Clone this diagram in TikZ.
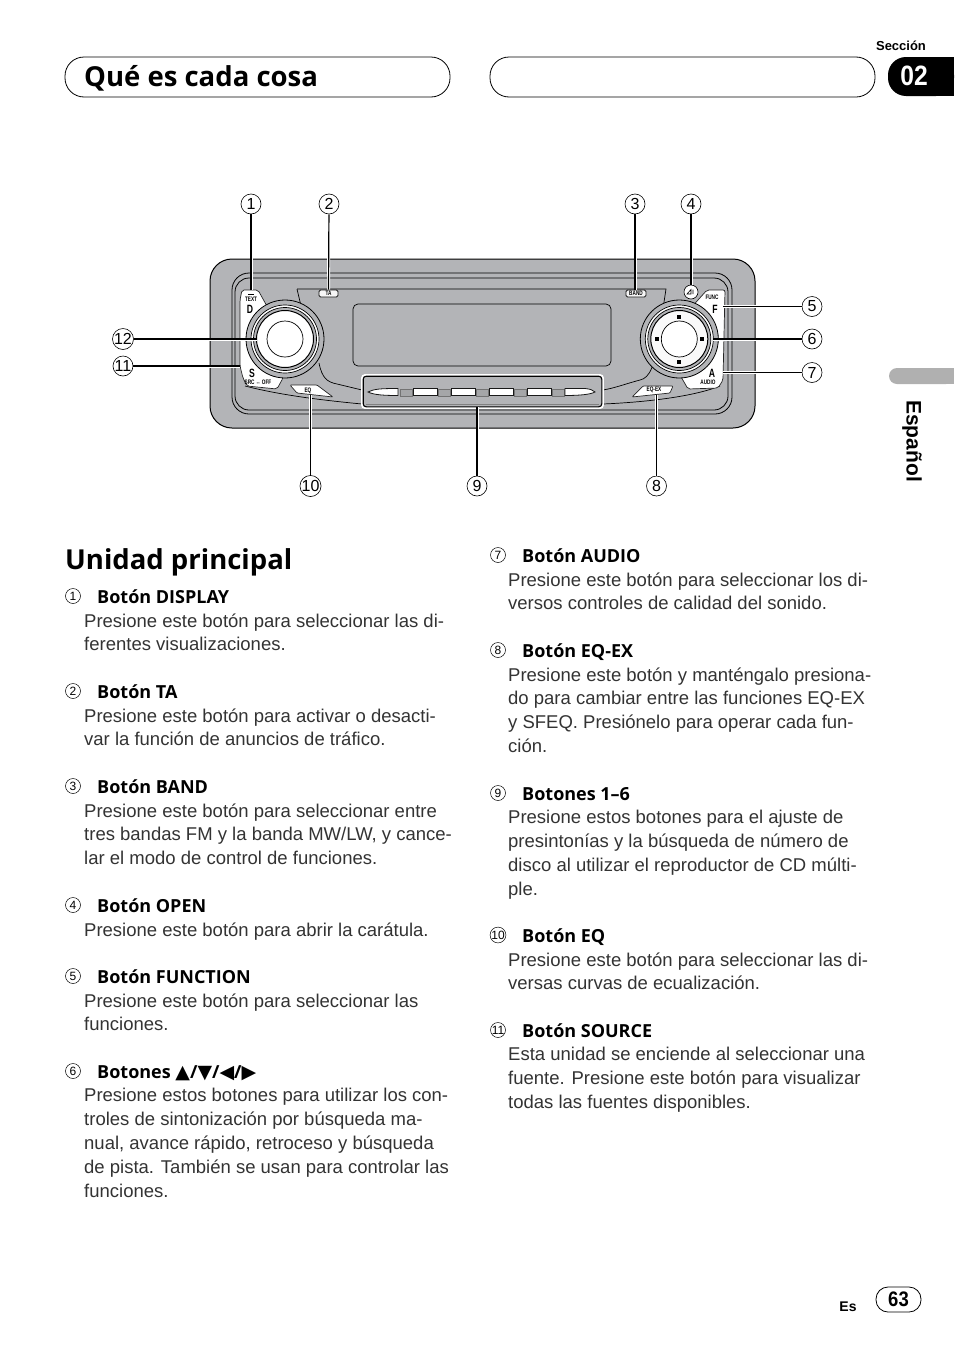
\documentclass[tikz,border=0pt]{standalone}
\usepackage{fontspec}
\setmainfont{Liberation Sans}
\newfontfamily\headfont{Open Sans}
\newfontfamily\symfont{DejaVu Sans}
\newfontfamily\keyfont[FakeStretch=.72]{Liberation Sans}
\newfontfamily\narrowfont[FakeStretch=.88]{Liberation Sans}
\definecolor{panelgray}{HTML}{B3B4B7}
\definecolor{tabgray}{HTML}{B0B0B0}
\definecolor{bodyink}{HTML}{333333}
\tikzset{
	callout/.style={line width=1.2pt, preaction={draw, white, line width=3pt}},
	bigmark/.style={circle, draw, line width=.6pt, fill=white, inner sep=0pt, minimum size=20pt, font=\fontsize{16}{16}\selectfont},
	smallmark/.style={circle, draw, line width=.5pt, inner sep=0pt, minimum size=15pt, font=\fontsize{12}{12}\selectfont},
	itemhead/.style={anchor=base west, inner sep=0pt, font=\headfont\bfseries\fontsize{18}{24}\selectfont},
	itembody/.style={anchor=north west, inner sep=0pt, align=left, text=bodyink, font=\fontsize{18.5}{23.8}\selectfont},
	bighead/.style={anchor=base west, inner sep=0pt, font=\headfont\bfseries\fontsize{27.5}{32}\selectfont},
	keyface/.style={draw=black!85, line width=.7pt, fill=white},
	keylabel/.style={inner sep=0pt, font=\keyfont\bfseries\fontsize{6.5}{6.5}\selectfont},
	keyletter/.style={inner sep=0pt, font=\keyfont\bfseries\fontsize{12}{12}\selectfont},
	tabkey/.style={draw=black!90, line width=.8pt, fill=white!88!panelgray, rounded corners=1.5pt, inner sep=0pt, minimum height=7pt, font=\keyfont\bfseries\fontsize{6.5}{6.5}\selectfont},
	gapkey/.style={draw=black!55, line width=.5pt, fill=panelgray!92!black},
	presetkey/.style={draw=black!90, line width=.8pt, fill=white},
}
\begin{document}
\begin{tikzpicture}[x=1pt, y=-1pt]
	\useasboundingbox (0, 0) rectangle (954, 1352);
	\fill[white] (0, 0) rectangle (954, 1352);

	\draw[line width=.8pt, rounded corners=19pt] (65, 57) rectangle (450, 97);
	\draw[line width=.8pt, rounded corners=19pt] (490, 57) rectangle (875, 97);
	\node[bighead] (title) at (84, 86) {Qué es cada cosa};

	\fill[black, rounded corners=18pt] (954, 57) -- (888, 57) -- (888, 96) -- (954, 96) -- cycle;
	\fill[black] (925, 57) rectangle (954, 96);
	\node[inner sep=0pt, font=\bfseries\fontsize{13}{13}\selectfont] (sectionword) at (901, 46) {Sección};
	\node[inner sep=0pt, text=white, font=\narrowfont\bfseries\fontsize{28}{28}\selectfont] (sectionno) at (914, 76) {02};

	\fill[tabgray, rounded corners=8pt] (954, 368) -- (889, 368) -- (889, 384) -- (954, 384) -- cycle;
	\fill[tabgray] (920, 368) rectangle (954, 384);
	\node[inner sep=0pt, rotate=-90, font=\bfseries\fontsize{21}{21}\selectfont] (language) at (912, 441) {Español};

	\draw[line width=1pt, fill=panelgray, rounded corners=22pt] (210, 259) rectangle (755, 428);
	\draw[line width=.8pt, rounded corners=17pt] (232, 273) rectangle (732, 414);
	\draw[line width=.8pt, rounded corners=14pt] (235, 278) rectangle (728, 410);

	\draw[line width=.7pt] (297, 289) -- (666, 289) -- (659, 335) .. controls (655, 365) and (650, 378) .. (640, 380) .. controls (625, 384) and (615, 388) .. (603, 390);
	\draw[line width=.7pt] (297, 289) -- (302, 310);
	\draw[line width=.7pt] (319, 363) .. controls (322, 378) and (327, 382) .. (337, 384) -- (362, 390);
	\draw[line width=.7pt] (245, 386) .. controls (280, 395) and (320, 400) .. (362, 404);
	\draw[line width=.7pt] (603, 404) .. controls (650, 402) and (695, 396) .. (720, 386);

	\draw[keyface, rounded corners=2pt] (242, 290) -- (258, 290) -- (268, 308) -- (285, 345) -- (283, 378) -- (277, 389) -- (247, 386) -- (243, 378) -- (240, 366) -- (240, 300) -- cycle;
	\draw[keyface, rounded corners=2pt] (707, 290) -- (725, 290) -- (723, 380) -- (718, 388) -- (688, 389) -- (680, 375) -- (680, 320) -- cycle;
	\draw[keyface, rounded corners=1pt] (290, 385) -- (317, 385) -- (333, 397) -- (297, 393) -- cycle;
	\draw[keyface, rounded corners=1pt] (643, 386) -- (673, 386) -- (670, 393) -- (632, 397) -- cycle;

	\draw[line width=.7pt, fill=panelgray, rounded corners=5pt] (353, 304) rectangle (611, 366);

	\draw[white, line width=1.8pt, fill=panelgray, rounded corners=3pt] (362, 375) rectangle (603, 408);
	\draw[line width=1.1pt, rounded corners=3pt] (363.2, 376.2) rectangle (601.8, 406.8);
	\draw[black!50, line width=.4pt] (366, 404) -- (599, 404);
	\draw[presetkey] (368, 392) .. controls (374, 389) and (380, 388.5) .. (398, 388.5) -- (398, 395.5) .. controls (385, 395.5) and (374, 395) .. (368, 392) -- cycle;
	\draw[gapkey] (400, 389) rectangle (412, 396);
	\draw[presetkey] (413, 388.5) rectangle (437, 395.5);
	\draw[gapkey] (438, 389) rectangle (450, 396);
	\draw[presetkey] (451, 388.5) rectangle (475, 395.5);
	\draw[gapkey] (476, 389) rectangle (488, 396);
	\draw[presetkey] (489, 388.5) rectangle (513, 395.5);
	\draw[gapkey] (514, 389) rectangle (526, 396);
	\draw[presetkey] (527, 388.5) rectangle (551, 395.5);
	\draw[gapkey] (552, 389) rectangle (564, 396);
	\draw[presetkey] (565, 388.5) -- (585, 388.5) .. controls (590, 389) and (593, 390) .. (595, 392) .. controls (590, 394.5) and (580, 395.5) .. (565, 395.5) -- cycle;

	\draw[line width=.8pt, fill=panelgray] (285, 339) circle (39);
	\draw[line width=.7pt, fill=white] (285, 339) circle (34);
	\draw[line width=.7pt, fill=panelgray] (285, 339) circle (31.5);
	\draw[line width=1pt, fill=white] (285, 339) circle (28.5);
	\draw[line width=.7pt] (285, 339) circle (18);

	\draw[line width=.8pt, fill=panelgray] (679.3, 339) circle (39);
	\draw[line width=.7pt, fill=white] (679.3, 339) circle (34);
	\draw[line width=.7pt, fill=panelgray] (679.3, 339) circle (31.5);
	\draw[line width=1pt, fill=white!92!panelgray] (679.3, 339) circle (28.5);
	\draw[line width=.7pt, fill=white] (679.3, 339) circle (18);
	\fill (677.3, 314.5) rectangle (681.3, 318.5);
	\fill (677.3, 359.5) rectangle (681.3, 363.5);
	\fill (654.8, 337) rectangle (658.8, 341);
	\fill (699.8, 337) rectangle (703.8, 341);

	\node[tabkey, minimum width=19pt] (keyta) at (328.5, 293.5) {TA};
	\node[tabkey, minimum width=20pt] (keyband) at (636, 293.5) {BAND};
	\node[circle, draw, line width=.6pt, fill=white, inner sep=0pt, minimum size=14pt] (keyopen) at (691, 292) {};
	\draw[line width=.6pt] (687, 294) -- (691, 289.5) -- (691, 294) -- cycle (693, 289.5) -- (693, 294);

	\draw[line width=.7pt] (248, 294) -- (254, 294);
	\node[keylabel] (labeltext) at (251, 299) {TEXT};
	\node[keyletter] (letterd) at (250, 309) {D};
	\node[keyletter] (letters) at (252, 373) {S};
	\node[keylabel] (labelsrc) at (258, 382) {SRC ↔ OFF};
	\node[keylabel] (labeleq) at (308, 391) {EQ};
	\node[keylabel] (labelfunc) at (712, 297) {FUNC};
	\node[keyletter] (letterf) at (715, 309) {F};
	\node[keyletter] (lettera) at (712, 373) {A};
	\node[keylabel] (labelaudio) at (708, 382) {AUDIO};
	\node[keylabel] (labeleqex) at (654, 390) {EQ-EX};

	\coordinate (tipa) at (251, 290);
	\coordinate (tipe) at (723, 306.5);
	\coordinate (tipf) at (713, 339);
	\coordinate (tipg) at (723, 372.5);
	\coordinate (tiph) at (656.5, 395);
	\coordinate (tipi) at (477, 407);
	\coordinate (tipj) at (310.5, 395);
	\coordinate (tipk) at (240, 366);
	\coordinate (tipl) at (257, 339);

	\node[bigmark] (marka) at (251, 204) {1};
	\node[bigmark] (markb) at (329, 204) {2};
	\node[bigmark] (markc) at (635, 204) {3};
	\node[bigmark] (markd) at (691, 204) {4};
	\node[bigmark] (marke) at (812, 306.5) {5};
	\node[bigmark] (markf) at (812, 339) {6};
	\node[bigmark] (markg) at (812, 372.5) {7};
	\node[bigmark] (markh) at (656.5, 486) {8};
	\node[bigmark] (marki) at (477, 486) {9};
	\node[bigmark] (markj) at (310.5, 486) {10};
	\node[bigmark] (markk) at (123, 366) {11};
	\node[bigmark] (markl) at (123, 339) {12};

	\draw[callout] (marka) -- (tipa);
	\draw[callout] (markb) -- (keyta);
	\draw[callout] (markc) -- (keyband.north -| markc);
	\draw[callout] (markd) -- (keyopen);
	\draw[callout] (marke) -- (tipe);
	\draw[callout] (markf) -- (tipf);
	\draw[callout] (markg) -- (tipg);
	\draw[callout] (markh) -- (tiph);
	\draw[callout] (marki) -- (tipi);
	\draw[callout] (markj) -- (tipj);
	\draw[callout] (markk) -- (tipk);
	\draw[callout] (markl) -- (tipl);

	\node[bighead] (unit) at (65, 569) {Unidad principal};

	\node[smallmark] (itema) at (73, 596) {1};
	\node[itemhead] (heada) at (97, 603) {Botón DISPLAY};
	\node[itembody] (bodya) at (84, 613.3) {Presione este botón para seleccionar las di-\\ferentes visualizaciones.};

	\node[smallmark] (itemb) at (73, 691) {2};
	\node[itemhead] (headb) at (97, 698) {Botón TA};
	\node[itembody] (bodyb) at (84, 708.3) {Presione este botón para activar o desacti-\\var la función de anuncios de tráfico.};

	\node[smallmark] (itemc) at (73, 786) {3};
	\node[itemhead] (headc) at (97, 793) {Botón BAND};
	\node[itembody] (bodyc) at (84, 803.3) {Presione este botón para seleccionar entre\\tres bandas FM y la banda MW/LW, y cance-\\lar el modo de control de funciones.};

	\node[smallmark] (itemd) at (73, 905) {4};
	\node[itemhead] (headd) at (97, 912) {Botón OPEN};
	\node[itembody] (bodyd) at (84, 922.3) {Presione este botón para abrir la carátula.};

	\node[smallmark] (iteme) at (73, 976) {5};
	\node[itemhead] (heade) at (97, 983) {Botón FUNCTION};
	\node[itembody] (bodye) at (84, 993.3) {Presione este botón para seleccionar las\\funciones.};

	\node[smallmark] (itemf) at (73, 1071) {6};
	\node[itemhead] (headf) at (97, 1078) {Botones {\symfont\fontsize{19}{19}\selectfont ▲}/{\symfont\fontsize{19}{19}\selectfont ▼}/{\symfont\fontsize{19}{19}\selectfont ◀}/{\symfont\fontsize{19}{19}\selectfont ▶}};
	\node[itembody] (bodyf) at (84, 1088.3) {Presione estos botones para utilizar los con-\\troles de sintonización por búsqueda ma-\\nual, avance rápido, retroceso y búsqueda\\de pista. También se usan para controlar las\\funciones.};

	\node[smallmark] (itemg) at (498, 555) {7};
	\node[itemhead] (headg) at (522, 562) {Botón AUDIO};
	\node[itembody] (bodyg) at (508, 572.3) {Presione este botón para seleccionar los di-\\versos controles de calidad del sonido.};

	\node[smallmark] (itemh) at (498, 650) {8};
	\node[itemhead] (headh) at (522, 657) {Botón EQ-EX};
	\node[itembody] (bodyh) at (508, 667.3) {Presione este botón y manténgalo presiona-\\do para cambiar entre las funciones EQ-EX\\y SFEQ. Presiónelo para operar cada fun-\\ción.};

	\node[smallmark] (itemi) at (498, 793) {9};
	\node[itemhead] (headi) at (522, 800) {Botones 1–6};
	\node[itembody] (bodyi) at (508, 810.3) {Presione estos botones para el ajuste de\\presintonías y la búsqueda de número de\\disco al utilizar el reproductor de CD múlti-\\ple.};

	\node[smallmark] (itemj) at (498, 935) {10};
	\node[itemhead] (headj) at (522, 942) {Botón EQ};
	\node[itembody] (bodyj) at (508, 952.3) {Presione este botón para seleccionar las di-\\versas curvas de ecualización.};

	\node[smallmark] (itemk) at (498, 1030) {11};
	\node[itemhead] (headk) at (522, 1037) {Botón SOURCE};
	\node[itembody] (bodyk) at (508, 1047.3) {Esta unidad se enciende al seleccionar una\\fuente. Presione este botón para visualizar\\todas las fuentes disponibles.};

	\node[inner sep=0pt, font=\bfseries\fontsize{14}{14}\selectfont] (langcode) at (848, 1307) {Es};
	\node[draw, line width=.8pt, rounded corners=12pt, minimum width=45pt, minimum height=25pt, inner sep=0pt, font=\narrowfont\bfseries\fontsize{21}{21}\selectfont] (pageno) at (898.5, 1299.5) {63};
\end{tikzpicture}
\end{document}
